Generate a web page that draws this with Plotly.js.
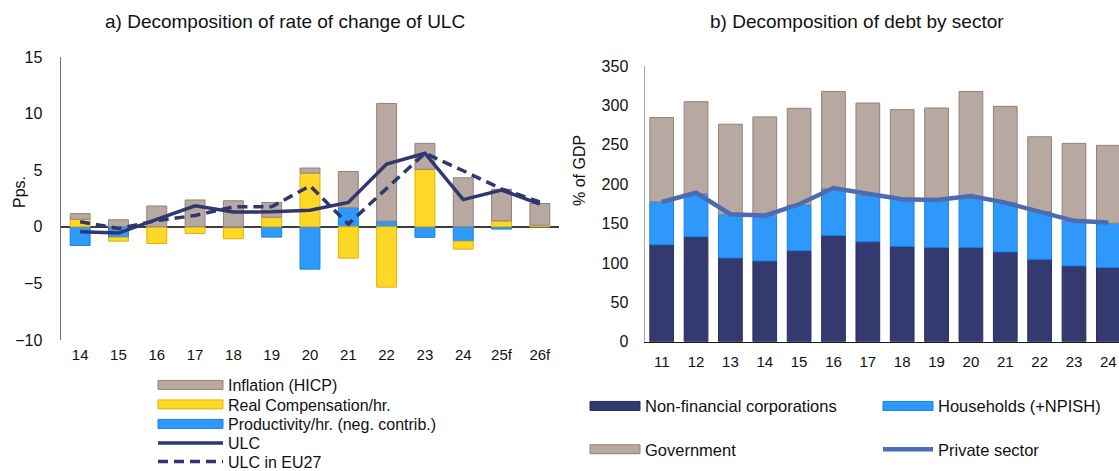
<!DOCTYPE html>
<html>
<head>
<meta charset="utf-8">
<script src="https://cdn.plot.ly/plotly-3.0.1.min.js"></script>
<style>
  html, body { margin: 0; padding: 0; background: #ffffff; }
  #chart { width: 1119px; height: 471px; }
</style>
</head>
<body>
<div id="chart"></div>
<script>
// ---------- Panel a) data ----------
const yearsA = ['14','15','16','17','18','19','20','21','22','23','24','25f','26f'];
const productivity = [-1.65, -0.94, 0, 0, -0.1, -0.91, -3.74, 1.68, 0.5, -0.93, -1.27, -0.2, 0];
const realComp     = [0.67, -0.33, -1.47, -0.59, -0.96, 0.85, 4.74, -2.77, -5.33, 5.08, -0.7, 0.52, 0.15];
const inflation    = [0.5, 0.62, 1.84, 2.37, 2.3, 1.3, 0.45, 3.21, 10.4, 2.29, 4.33, 2.8, 1.91];
const ulc          = [-0.44, -0.55, 0.65, 1.86, 1.3, 1.33, 1.47, 2.15, 5.54, 6.5, 2.4, 3.24, 2.0];
const ulcEU27      = [0.45, -0.15, 0.55, 1.0, 1.77, 1.77, 3.62, 0.24, 3.39, 6.5, 4.95, 3.35, 2.2];

// ---------- Panel b) data ----------
const yearsB = ['11','12','13','14','15','16','17','18','19','20','21','22','23','24'];
const nfc        = [123.1, 133.2, 106.3, 102.5, 115.5, 134.9, 126.9, 121.0, 119.7, 119.7, 113.9, 104.6, 96.2, 94.1];
const households = [54.6, 54.6, 55.5, 58.0, 58.0, 59.2, 59.2, 59.7, 59.7, 63.1, 62.6, 60.5, 57.2, 56.3];
const government = [106.8, 116.8, 114.2, 124.8, 122.7, 123.5, 116.8, 113.8, 117.2, 134.8, 122.2, 95.0, 98.3, 98.8];
const privateSector = [177.3, 189.0, 161.8, 160.0, 174.4, 195.0, 187.8, 180.7, 179.8, 184.9, 176.5, 164.7, 153.4, 151.3];

const FONT = 'Liberation Sans, Arial, sans-serif';
const NAVY = '#30376e';
const GREY = '#b7a9a1', GREY_L = '#968075';
const YEL = '#ffd726', YEL_L = '#e2b300';
const BLUE = '#2f99fb', BLUE_L = '#1681e6';

const data = [
  { type:'bar', name:'Productivity/hr. (neg. contrib.)', x:yearsA, y:productivity, xaxis:'x', yaxis:'y',
    width:0.52, marker:{color:BLUE, line:{color:BLUE_L, width:1}}, legend:'legend5' },
  { type:'bar', name:'Real Compensation/hr.', x:yearsA, y:realComp, xaxis:'x', yaxis:'y',
    width:0.52, marker:{color:YEL, line:{color:YEL_L, width:1}}, legend:'legend4' },
  { type:'bar', name:'Inflation (HICP)', x:yearsA, y:inflation, xaxis:'x', yaxis:'y',
    width:0.52, marker:{color:GREY, line:{color:GREY_L, width:1}}, legend:'legend' },
  { type:'scatter', mode:'lines', name:'ULC', x:yearsA, y:ulc, xaxis:'x', yaxis:'y',
    line:{color:NAVY, width:3.5}, legend:'legend6' },
  { type:'scatter', mode:'lines', name:'ULC in EU27', x:yearsA, y:ulcEU27, xaxis:'x', yaxis:'y',
    line:{color:NAVY, width:3.5, dash:'10px,6px'}, legend:'legend7' },

  { type:'bar', name:'Non-financial corporations', x:yearsB, y:nfc, xaxis:'x2', yaxis:'y2',
    width:0.69, marker:{color:'#343a6f', line:{color:'#2a2f5c', width:1}}, legend:'legend2' },
  { type:'bar', name:'Households (+NPISH)', x:yearsB, y:households, xaxis:'x2', yaxis:'y2',
    width:0.69, marker:{color:BLUE, line:{color:BLUE_L, width:1}}, legend:'legend2' },
  { type:'bar', name:'Government', x:yearsB, y:government, xaxis:'x2', yaxis:'y2',
    width:0.69, marker:{color:GREY, line:{color:GREY_L, width:1}}, legend:'legend3' },
  { type:'scatter', mode:'lines', name:'Private sector', x:yearsB, y:privateSector, xaxis:'x2', yaxis:'y2',
    line:{color:'#4b6cb0', width:4.5}, legend:'legend3' }
];

const W = 1119, H = 471;
const leftLegendFont = {size:16, family:FONT, color:'#111'};
function leftLegend(yc) {
  return { x:153/W, y:1-yc/H, xanchor:'left', yanchor:'middle', orientation:'v',
           bgcolor:'rgba(0,0,0,0)', font:leftLegendFont, itemwidth:65, tracegroupgap:0 };
}
function rightLegend(top) {
  return { x:585/W, y:1-top/H, xanchor:'left', yanchor:'top', orientation:'h',
           bgcolor:'rgba(0,0,0,0)', font:{size:16.5, family:FONT, color:'#111'},
           itemwidth:50, entrywidth:228, entrywidthmode:'pixels', traceorder:'normal' };
}

const layout = {
  width: W, height: H,
  margin: {l:0, r:0, t:0, b:0, pad:0, autoexpand:false},
  paper_bgcolor:'#ffffff', plot_bgcolor:'rgba(0,0,0,0)',
  font: {family: FONT, color:'#111111', size:15},
  barmode: 'relative',
  showlegend: true,
  xaxis: {
    domain:[61/W, 559/W], anchor:'y', type:'category', range:[-0.5, 12.5],
    showline:false, showgrid:false, zeroline:false, ticks:'',
    tickfont:{size:15, family:FONT, color:'#111'}, ticklabelstandoff:4
  },
  yaxis: {
    domain:[1-340/H, 1-57/H], anchor:'x', range:[-10, 15], tick0:0, dtick:5,
    showline:true, linecolor:'#6f6f6f', linewidth:1.5,
    zeroline:true, zerolinecolor:'#3c3c3c', zerolinewidth:1.5,
    showgrid:false, ticks:'', tickfont:{size:16, family:FONT, color:'#111'}, ticklabelstandoff:14
  },
  xaxis2: {
    domain:[644.5/W, 1], anchor:'y2', type:'category', range:[-0.5, 13.31],
    showline:true, linecolor:'#1a1a1a', linewidth:1.5, showgrid:false, zeroline:false, ticks:'',
    tickfont:{size:15, family:FONT, color:'#111'}, ticklabelstandoff:6
  },
  yaxis2: {
    domain:[1-341.7/H, 1-65.9/H], anchor:'x2', range:[0, 350], tick0:0, dtick:50,
    showline:true, linecolor:'#a8a8a8', linewidth:1, showgrid:false, zeroline:false, ticks:'',
    tickfont:{size:16, family:FONT, color:'#111'}, ticklabelstandoff:12
  },
  legend:  leftLegend(385),
  legend4: leftLegend(404.5),
  legend5: leftLegend(424),
  legend6: leftLegend(443),
  legend7: leftLegend(461.5),
  legend2: rightLegend(388.7),
  legend3: rightLegend(432),
  annotations: [
    { text:'a) Decomposition of rate of change of ULC', xref:'paper', yref:'paper',
      x:285/W, y:1-22/H, xanchor:'center', yanchor:'middle', showarrow:false,
      font:{size:19, family:FONT, color:'#111'} },
    { text:'b) Decomposition of debt by sector', xref:'paper', yref:'paper',
      x:857/W, y:1-22/H, xanchor:'center', yanchor:'middle', showarrow:false,
      font:{size:19, family:FONT, color:'#111'} },
    { text:'Pps.', xref:'paper', yref:'paper', x:19/W, y:1-192/H, textangle:-90,
      xanchor:'center', yanchor:'middle', showarrow:false,
      font:{size:16, family:FONT, color:'#111'} },
    { text:'% of GDP', xref:'paper', yref:'paper', x:580/W, y:1-171/H, textangle:-90,
      xanchor:'center', yanchor:'middle', showarrow:false,
      font:{size:16, family:FONT, color:'#111'} }
  ]
};

function widenBarSymbols(gd) {
  gd.querySelectorAll('g.legendpoints path').forEach(function(p){
    const d = (p.getAttribute('d') || '').replace(/\s/g, '');
    if (!/^M6,6H-6V-6H6Z$/.test(d)) return;
    const item = p.closest('g.traces');
    const txt = item ? (item.textContent || '') : '';
    const rightNames = ['Non-financial corporations','Households (+NPISH)','Government'];
    const w = rightNames.some(n => txt.indexOf(n) >= 0) ? 50 : 65;
    p.setAttribute('d', 'M' + (-w/2) + ',-4.5H' + (w/2) + 'V4.5H' + (-w/2) + 'Z');
  });
}

Plotly.newPlot('chart', data, layout, {staticPlot:true, displayModeBar:false}).then(widenBarSymbols);
</script>
</body>
</html>
